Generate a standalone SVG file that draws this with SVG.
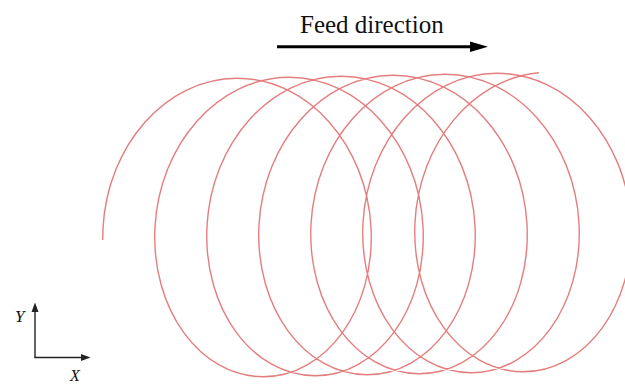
<svg xmlns="http://www.w3.org/2000/svg" width="625" height="385" viewBox="0 0 625 385">
  <style>
    .path { fill: none; stroke: #e47e7e; stroke-width: 1.4; }
    .lbl { font-family: "Liberation Serif", "Times New Roman", serif; fill: #111; }
    .ax { stroke: #222; stroke-width: 1.4; fill: none; }
  </style>
  <rect width="625" height="385" fill="#ffffff"/>
  <g id="toolpath">
    <path class="path" d="M102.7,240 L103,228
      c4.33,-82.65 62.84,-149.67 134,-149.75 c71.16,-0.08 129.67,66.76 134,149.25 c4.33,82.49 -45.5,149.33 -108,149.25 c-62.5,-0.08 -112.33,-67.1 -108,-149.75
      c4.33,-82.65 62.84,-149.67 134,-149.75 c71.16,-0.08 129.67,66.76 134,149.25 c4.33,82.49 -45.5,149.33 -108,149.25 c-62.5,-0.08 -112.33,-67.1 -108,-149.75
      c4.33,-82.65 62.84,-149.67 134,-149.75 c71.16,-0.08 129.67,66.76 134,149.25 c4.33,82.49 -45.5,149.33 -108,149.25 c-62.5,-0.08 -112.33,-67.1 -108,-149.75
      c4.33,-82.65 62.84,-149.67 134,-149.75 c71.16,-0.08 129.67,66.76 134,149.25 c4.33,82.49 -45.5,149.33 -108,149.25 c-62.5,-0.08 -112.33,-67.1 -108,-149.75
      c4.33,-82.65 62.84,-149.67 134,-149.75 c71.16,-0.08 129.67,66.76 134,149.25 c4.33,82.49 -45.5,149.33 -108,149.25 c-62.5,-0.08 -112.33,-67.1 -108,-149.75
      c4.33,-82.65 62.84,-149.67 134,-149.75 c71.16,-0.08 129.67,66.76 134,149.25 c4.33,82.49 -45.5,149.33 -108,149.25 c-62.5,-0.08 -112.33,-67.1 -108,-149.75
      c4.12,-78.06 56.86,-143.14 123.9,-149.3"/>
  </g>
  <g id="feed">
    <text class="lbl" x="300" y="33" font-size="25">Feed direction</text>
    <line x1="277" y1="46.7" x2="472" y2="46.7" stroke="#000" stroke-width="3"/>
    <polygon points="470,41.5 488,46.7 470,51.9" fill="#000"/>
  </g>
  <g id="axes">
    <line class="ax" x1="35" y1="357.5" x2="35" y2="311"/>
    <polygon points="31.5,312 35,302.5 38.5,312" fill="#222"/>
    <line class="ax" x1="34.3" y1="357.5" x2="82" y2="357.5"/>
    <polygon points="81,354 90.5,357.5 81,361" fill="#222"/>
    <text class="lbl" x="15" y="322" font-size="17" font-style="italic">Y</text>
    <text class="lbl" x="70" y="381" font-size="16" font-style="italic">X</text>
  </g>
</svg>
